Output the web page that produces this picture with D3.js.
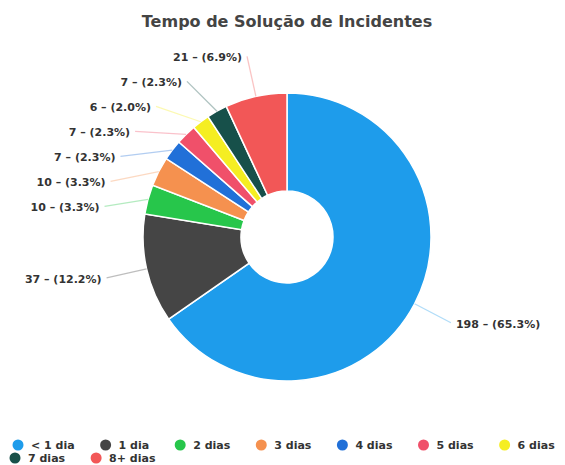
<!DOCTYPE html>
<html>
<head>
<meta charset="utf-8">
<script src="https://cdn.jsdelivr.net/npm/d3@7"></script>
<style>
  html, body { margin: 0; padding: 0; background: #fff; }
  svg { display: block; }
</style>
</head>
<body>
<svg id="chart" width="565" height="465"></svg>
<script>
const title = "Tempo de Solução de Incidentes";
const categories = ["< 1 dia", "1 dia", "2 dias", "3 dias", "4 dias", "5 dias", "6 dias", "7 dias", "8+ dias"];
const values = [198, 37, 10, 10, 7, 7, 6, 7, 21];
const colors = ["#1e9ceb", "#454545", "#27c64b", "#f5914f", "#2170d8", "#f0506a", "#f5ee22", "#17504a", "#f25757"];

const W = 565, H = 465;
const cx = 287, cy = 237, R = 144, r0 = 46, RL = 185;
const svg = d3.select("#chart");
const font = "'DejaVu Sans', sans-serif";

svg.append("text")
  .attr("x", cx).attr("y", 22)
  .attr("text-anchor", "middle").attr("dominant-baseline", "middle")
  .attr("font-family", font).attr("font-weight", "bold").attr("font-size", 16)
  .attr("fill", "#444").text(title);

const total = d3.sum(values);
const data = categories.map((c, i) => ({ cat: c, value: values[i], color: colors[i] }));
const pie = d3.pie().value(d => d.value).sort(null).startAngle(0).endAngle(2 * Math.PI);
const arcs = pie(data);
const arc = d3.arc().innerRadius(r0).outerRadius(R);

const g = svg.append("g").attr("transform", `translate(${cx},${cy})`);
g.selectAll("path.slice").data(arcs).join("path")
  .attr("class", "slice")
  .attr("d", arc)
  .attr("fill", d => d.data.color)
  .attr("stroke", "#fff").attr("stroke-width", 1.5);

// label layout
const labels = arcs.map(a => {
  const mid = (a.startAngle + a.endAngle) / 2;
  return {
    a, mid,
    side: Math.sin(mid) >= 0 ? 1 : -1,
    sx: R * Math.sin(mid), sy: -R * Math.cos(mid),
    y: -RL * Math.cos(mid)
  };
});
[1, -1].forEach(side => {
  const ls = labels.filter(l => l.side === side).sort((p, q) => p.y - q.y);
  for (let i = 1; i < ls.length; i++) {
    if (ls[i].y < ls[i - 1].y + 25) ls[i].y = ls[i - 1].y + 25;
  }
});
labels.forEach(l => {
  const dy = Math.max(-RL, Math.min(RL, l.y));
  l.x = l.side * Math.sqrt(RL * RL - dy * dy);
});

g.selectAll("line.lead").data(labels).join("line")
  .attr("class", "lead")
  .attr("x1", d => d.sx).attr("y1", d => d.sy)
  .attr("x2", d => d.x).attr("y2", d => d.y)
  .attr("stroke", d => d.a.data.color)
  .attr("stroke-opacity", 0.35)
  .attr("stroke-width", 1.3);

g.selectAll("text.lab").data(labels).join("text")
  .attr("class", "lab")
  .attr("x", d => d.x + d.side * 5).attr("y", d => d.y + 2)
  .attr("text-anchor", d => d.side > 0 ? "start" : "end")
  .attr("dominant-baseline", "middle")
  .attr("font-family", font).attr("font-weight", "bold").attr("font-size", 11)
  .attr("fill", "#333")
  .text(d => `${d.a.data.value} – (${(d.a.data.value / total * 100).toFixed(1)}%)`);

// legend (flow layout)
const lg = svg.append("g");
let lx = 18, ly = 445;
data.forEach(d => {
  const item = lg.append("g");
  const t = item.append("text")
    .attr("dominant-baseline", "middle")
    .attr("font-family", font).attr("font-weight", "bold").attr("font-size", 11)
    .attr("fill", "#333").text(d.cat);
  const tw = t.node().getComputedTextLength();
  if (lx + 13 + tw > W) { lx = 15; ly += 13; }
  item.append("circle").attr("cx", lx).attr("cy", ly).attr("r", 5.5).attr("fill", d.color);
  t.attr("x", lx + 13).attr("y", ly + 1);
  lx += 13 + tw + 31;
});
</script>
</body>
</html>
